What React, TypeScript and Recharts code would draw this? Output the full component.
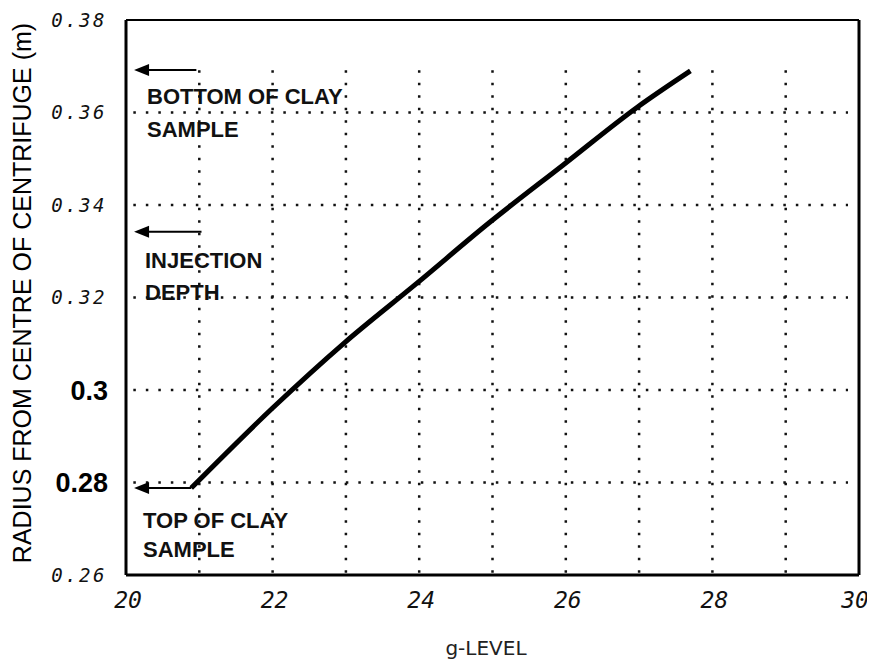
import React from 'react';
import {
  LineChart, Line, XAxis, YAxis, ReferenceLine, ReferenceDot
} from 'recharts';

// g-level vs radius
const gLevel = [20.89, 22.0, 22.98, 23.97, 24.95, 25.96, 26.98, 27.7];
const radius = [0.2788, 0.2961, 0.3102, 0.3231, 0.3361, 0.3486, 0.3612, 0.369];

const xTicks = [20, 22, 24, 26, 28, 30];
const yTicks = [0.26, 0.28, 0.3, 0.32, 0.34, 0.36, 0.38];
const yTickLabels = ['0.26', '0.28', '0.3', '0.32', '0.34', '0.36', '0.38'];
const boldYTicks = [0.28, 0.3];

const gridX = [21, 22, 23, 24, 25, 26, 27, 28, 29];
const gridY = [0.28, 0.3, 0.32, 0.34, 0.36];

// arrows pointing at the left axis: level, tail end
const arrowY = [0.3692, 0.3342, 0.2788];
const arrowTailX = [20.96, 21.03, 20.89];
const arrowTipX = 20.11;

const data = gLevel.map((x, i) => ({ x, y: radius[i] }));

const W = 875;
const H = 662;
const PLOT_BOTTOM = 575;

const XTick = (props: any) => {
  const { x, payload } = props;
  const dx = payload.value === 30 ? -4 : 2;
  return (
    <text x={x + dx} y={PLOT_BOTTOM + 33} textAnchor="middle"
      fontFamily="DejaVu Sans Mono" fontStyle="italic" fontSize={23}
      fill="#111">
      {payload.value}
    </text>
  );
};

const YTick = (props: any) => {
  const { y, payload } = props;
  const v = payload.value;
  const label = yTickLabels[yTicks.indexOf(v)] ?? String(v);
  if (boldYTicks.includes(v)) {
    return (
      <text x={108} y={y} dy="0.36em" textAnchor="end"
        fontFamily="Liberation Sans" fontWeight="bold" fontSize={27} fill="#000">
        {label}
      </text>
    );
  }
  return (
    <text x={107} y={y} dy="0.36em" textAnchor="end"
      fontFamily="DejaVu Sans Mono" fontStyle="italic" fontSize={19}
      letterSpacing={2.5} fill="#111">
      {label}
    </text>
  );
};

const ArrowHead = (props: any) => {
  const { cx, cy } = props;
  return <polygon points={`${cx},${cy} ${cx + 15},${cy - 6} ${cx + 15},${cy + 6}`} fill="#000" />;
};

const noteStyle = {
  fontFamily: 'Liberation Sans',
  fontWeight: 'bold' as const,
  fontSize: 22,
  fill: '#111',
};

export default function App() {
  return (
    <div style={{ width: W, height: H, margin: '-8px 0 0 -8px', background: '#fff' }}>
      <LineChart width={W} height={H} data={data}
        margin={{ top: 20, right: 16, bottom: 0, left: 0 }}>
        <XAxis type="number" dataKey="x" domain={[20, 30]} ticks={xTicks}
          allowDataOverflow height={87} tickLine={false} tick={<XTick />}
          axisLine={{ stroke: '#000', strokeWidth: 3 }} />
        <YAxis type="number" domain={[0.26, 0.38]} ticks={yTicks}
          allowDataOverflow width={126} tickLine={false} tick={<YTick />}
          axisLine={{ stroke: '#000', strokeWidth: 3 }} />

        {gridX.map((gx) => (
          <ReferenceLine key={`gx-${gx}`} segment={[{ x: gx, y: 0.2605 }, { x: gx, y: 0.3709 }]}
            stroke="#111" strokeWidth={2.5} strokeDasharray="2.5 10" />
        ))}
        {gridY.map((gy) => (
          <ReferenceLine key={`gy-${gy}`} segment={[{ x: 20.1, y: gy }, { x: 29.85, y: gy }]}
            stroke="#111" strokeWidth={2.5} strokeDasharray="2.5 10" />
        ))}

        <ReferenceLine y={0.38} stroke="#000" strokeWidth={2} />
        <ReferenceLine x={30} stroke="#000" strokeWidth={3} />

        {arrowY.map((ay, i) => (
          <ReferenceLine key={`al-${i}`} segment={[{ x: arrowTipX + 0.1, y: ay }, { x: arrowTailX[i], y: ay }]}
            stroke="#000" strokeWidth={2} />
        ))}
        {arrowY.map((ay, i) => (
          <ReferenceDot key={`ah-${i}`} x={arrowTipX} y={ay} shape={<ArrowHead />} />
        ))}

        <Line type="monotone" dataKey="y" stroke="#000" strokeWidth={5}
          dot={false} isAnimationActive={false} />

        <g>
          <text x={147} y={104} style={noteStyle}>BOTTOM OF CLAY</text>
          <text x={147} y={137} style={noteStyle}>SAMPLE</text>
          <text x={145} y={268} style={noteStyle}>INJECTION</text>
          <text x={145} y={300} style={noteStyle}>DEPTH</text>
          <text x={143} y={528} style={noteStyle}>TOP OF CLAY</text>
          <text x={143} y={557} style={noteStyle}>SAMPLE</text>
          <text x={486} y={655} textAnchor="middle" fontFamily="DejaVu Sans"
            fontSize={20} fill="#222">g-LEVEL</text>
          <text x={22} y={293} textAnchor="middle" dominantBaseline="central"
            transform="rotate(-90 22 293)" fontFamily="Liberation Sans"
            fontSize={25} fill="#000">RADIUS FROM CENTRE OF CENTRIFUGE (m)</text>
        </g>
      </LineChart>
    </div>
  );
}
